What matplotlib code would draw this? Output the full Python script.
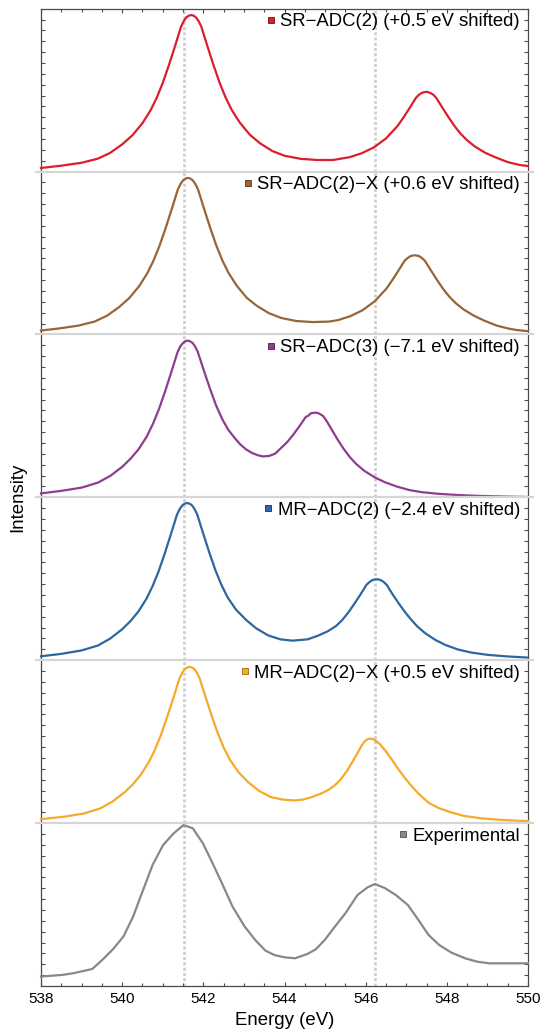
import matplotlib
matplotlib.use("Agg")
import matplotlib.pyplot as plt
from matplotlib.lines import Line2D
from matplotlib.colors import to_rgb
import numpy as np

plt.rcParams['font.family'] = ['Liberation Sans', 'DejaVu Sans']

# one panel per method, top to bottom
labels = ["SR\u2212ADC(2) (+0.5 eV shifted)",
          "SR\u2212ADC(2)\u2212X (+0.6 eV shifted)",
          "SR\u2212ADC(3) (\u22127.1 eV shifted)",
          "MR\u2212ADC(2) (\u22122.4 eV shifted)",
          "MR\u2212ADC(2)\u2212X (+0.5 eV shifted)",
          "Experimental"]
colors = ["#DA1E2E", "#976537", "#8E3D8E", "#2E66A0", "#F6AA2C", "#888888"]

# energies (eV) and normalised intensity
e_sr2 = [538.0, 538.5, 539.0, 539.4, 539.7, 540.0, 540.25, 540.5, 540.7, 540.85,
         541.0, 541.15, 541.3, 541.45, 541.52, 541.58, 541.64, 541.7, 541.76, 541.82,
         541.88, 541.95, 542.1, 542.25, 542.4, 542.55, 542.7, 542.9, 543.15, 543.4,
         543.7, 544.0, 544.4, 544.8, 545.2, 545.6, 545.9, 546.2, 546.5, 546.79,
         546.94, 547.09, 547.24, 547.31, 547.37, 547.43, 547.49, 547.55, 547.61, 547.67,
         547.74, 547.89, 548.04, 548.19, 548.34, 548.49, 548.69, 548.94, 549.19, 549.5,
         549.8, 550.0]
i_sr2 = [0.022, 0.036, 0.054, 0.079, 0.114, 0.167, 0.222, 0.297, 0.376, 0.452,
         0.544, 0.652, 0.768, 0.889, 0.925, 0.946, 0.957, 0.961, 0.957, 0.946,
         0.925, 0.890, 0.770, 0.654, 0.546, 0.454, 0.378, 0.300, 0.225, 0.173,
         0.126, 0.097, 0.078, 0.071, 0.071, 0.088, 0.112, 0.148, 0.203, 0.281,
         0.335, 0.393, 0.453, 0.471, 0.481, 0.487, 0.489, 0.487, 0.480, 0.471,
         0.452, 0.392, 0.334, 0.279, 0.232, 0.194, 0.154, 0.116, 0.088, 0.058,
         0.040, 0.034]

e_sr2x = [538.0, 538.42, 538.92, 539.32, 539.62, 539.92, 540.17, 540.42, 540.62, 540.77,
          540.92, 541.07, 541.22, 541.37, 541.44, 541.5, 541.56, 541.62, 541.68, 541.74,
          541.8, 541.87, 542.02, 542.17, 542.32, 542.47, 542.62, 542.82, 543.07, 543.32,
          543.62, 543.92, 544.3, 544.7, 545.1, 545.32, 545.62, 545.92, 546.22, 546.51,
          546.66, 546.81, 546.96, 547.03, 547.09, 547.15, 547.21, 547.27, 547.33, 547.39,
          547.46, 547.61, 547.76, 547.91, 548.06, 548.21, 548.41, 548.66, 548.91, 549.22,
          549.52, 549.72, 550.0]
i_sr2x = [0.024, 0.036, 0.054, 0.079, 0.114, 0.167, 0.222, 0.297, 0.376, 0.452,
          0.544, 0.652, 0.768, 0.889, 0.925, 0.946, 0.957, 0.961, 0.957, 0.946,
          0.925, 0.890, 0.770, 0.654, 0.546, 0.454, 0.378, 0.300, 0.225, 0.175,
          0.130, 0.101, 0.082, 0.076, 0.079, 0.088, 0.112, 0.148, 0.203, 0.281,
          0.335, 0.393, 0.453, 0.468, 0.479, 0.484, 0.486, 0.484, 0.479, 0.468,
          0.452, 0.392, 0.334, 0.279, 0.232, 0.194, 0.154, 0.116, 0.086, 0.055,
          0.036, 0.027, 0.020]

e_sr3 = [538.0, 538.51, 539.01, 539.41, 539.71, 540.01, 540.21, 540.41, 540.61, 540.76,
         540.91, 541.06, 541.21, 541.36, 541.43, 541.49, 541.55, 541.61, 541.67, 541.73,
         541.79, 541.86, 542.01, 542.16, 542.31, 542.46, 542.61, 542.76, 542.91, 543.06,
         543.21, 543.36, 543.47, 543.62, 543.77, 543.92, 544.07, 544.22, 544.37, 544.52,
         544.59, 544.65, 544.71, 544.77, 544.83, 544.89, 544.95, 545.02, 545.17, 545.32,
         545.47, 545.62, 545.77, 545.97, 546.22, 546.47, 546.77, 547.07, 547.37, 547.77,
         548.27, 548.77, 549.37, 550.0]
i_sr3 = [0.024, 0.040, 0.060, 0.091, 0.132, 0.189, 0.238, 0.297, 0.375, 0.452,
         0.544, 0.652, 0.768, 0.888, 0.926, 0.945, 0.958, 0.962, 0.958, 0.949,
         0.929, 0.895, 0.780, 0.670, 0.567, 0.483, 0.416, 0.368, 0.325, 0.293,
         0.271, 0.257, 0.251, 0.254, 0.268, 0.304, 0.340, 0.386, 0.437, 0.492,
         0.502, 0.516, 0.518, 0.520, 0.517, 0.509, 0.499, 0.476, 0.413, 0.350,
         0.293, 0.244, 0.204, 0.162, 0.123, 0.093, 0.066, 0.045, 0.032, 0.022,
         0.014, 0.009, 0.005, 0.002]

e_mr2 = [538.0, 538.5, 539.0, 539.4, 539.7, 540.0, 540.2, 540.4, 540.6, 540.75,
         540.9, 541.05, 541.2, 541.35, 541.42, 541.48, 541.54, 541.6, 541.66, 541.72,
         541.78, 541.85, 542.0, 542.15, 542.3, 542.45, 542.6, 542.8, 543.05, 543.3,
         543.6, 543.9, 544.2, 544.57, 544.82, 545.07, 545.27, 545.42, 545.57, 545.72,
         545.87, 546.02, 546.09, 546.15, 546.21, 546.27, 546.33, 546.39, 546.45, 546.52,
         546.67, 546.82, 546.97, 547.12, 547.27, 547.47, 547.72, 547.97, 548.27, 548.6,
         549.0, 549.5, 550.0]
i_mr2 = [0.024, 0.039, 0.060, 0.090, 0.132, 0.190, 0.239, 0.299, 0.378, 0.455,
         0.547, 0.656, 0.773, 0.893, 0.929, 0.950, 0.961, 0.965, 0.961, 0.951,
         0.930, 0.894, 0.775, 0.659, 0.551, 0.460, 0.385, 0.312, 0.248, 0.196,
         0.152, 0.128, 0.120, 0.128, 0.150, 0.178, 0.210, 0.246, 0.292, 0.346,
         0.403, 0.463, 0.479, 0.490, 0.495, 0.497, 0.495, 0.489, 0.479, 0.462,
         0.402, 0.347, 0.295, 0.249, 0.208, 0.165, 0.124, 0.093, 0.066, 0.047,
         0.033, 0.023, 0.016]

e_mr2x = [538.0, 538.56, 539.06, 539.46, 539.76, 540.06, 540.26, 540.46, 540.66, 540.81,
          540.96, 541.11, 541.26, 541.41, 541.48, 541.54, 541.6, 541.66, 541.72, 541.78,
          541.84, 541.91, 542.06, 542.21, 542.36, 542.51, 542.66, 542.86, 543.11, 543.36,
          543.66, 543.96, 544.26, 544.45, 544.64, 544.89, 545.09, 545.24, 545.39, 545.54,
          545.69, 545.84, 545.9, 545.97, 546.04, 546.1, 546.16, 546.22, 546.28, 546.35,
          546.5, 546.65, 546.8, 546.95, 547.1, 547.3, 547.55, 547.8, 548.1, 548.42,
          548.82, 549.3, 549.8, 550.0]
i_mr2x = [0.024, 0.039, 0.059, 0.090, 0.132, 0.189, 0.237, 0.297, 0.376, 0.452,
          0.544, 0.652, 0.767, 0.887, 0.923, 0.944, 0.955, 0.959, 0.955, 0.945,
          0.924, 0.888, 0.770, 0.656, 0.549, 0.459, 0.387, 0.314, 0.250, 0.200,
          0.160, 0.144, 0.139, 0.144, 0.157, 0.180, 0.205, 0.232, 0.270, 0.320,
          0.383, 0.448, 0.476, 0.500, 0.514, 0.519, 0.517, 0.511, 0.500, 0.485,
          0.440, 0.388, 0.333, 0.282, 0.236, 0.181, 0.125, 0.092, 0.066, 0.044,
          0.030, 0.020, 0.014, 0.012]

e_exp = [538.0, 538.53, 538.79, 539.26, 539.51, 539.77, 540.03, 540.27, 540.5, 540.75,
         541.01, 541.27, 541.51, 541.74, 541.99, 542.21, 542.46, 542.72, 543.02, 543.28,
         543.53, 543.75, 544.0, 544.26, 544.56, 544.77, 544.99, 545.24, 545.5, 545.8,
         546.05, 546.23, 546.48, 546.74, 547.04, 547.3, 547.55, 547.81, 548.11, 548.45,
         548.75, 549.05, 549.39, 550.0]
i_exp = [0.058, 0.068, 0.078, 0.104, 0.160, 0.225, 0.303, 0.426, 0.579, 0.743,
         0.866, 0.937, 0.988, 0.968, 0.876, 0.763, 0.630, 0.487, 0.364, 0.282,
         0.217, 0.190, 0.176, 0.170, 0.196, 0.225, 0.282, 0.364, 0.446, 0.559,
         0.606, 0.626, 0.600, 0.559, 0.497, 0.405, 0.313, 0.252, 0.205, 0.170,
         0.149, 0.139, 0.139, 0.139]

energies = [e_sr2, e_sr2x, e_sr3, e_mr2, e_mr2x, e_exp]
intensities = [i_sr2, i_sr2x, i_sr3, i_mr2, i_mr2x, i_exp]

# experimental peak positions (dotted guides)
exp_peaks = [541.53, 546.22]

fig = plt.figure(figsize=(5.43, 10.32), dpi=100)
axes = fig.subplots(6, 1, sharex=True)
fig.subplots_adjust(left=0.0755, right=0.9724, bottom=0.0446, top=0.9916, hspace=0)

frame_col = "#4A4A4A"
for k, ax in enumerate(axes):
    for p in exp_peaks:
        ax.axvline(p, color="#D0D0D0", lw=2.0, ls=(0, (1.1, 0.8)), zorder=1)
    ax.plot(energies[k], intensities[k], color=colors[k], lw=1.6, zorder=3,
            clip_on=False, solid_joinstyle='round')
    ax.set_xlim(538, 550)
    ax.set_ylim(0, 1)
    ax.set_yticks(np.arange(1, 15) / 15)
    ax.set_yticklabels([])
    ax.tick_params(axis='y', direction='in', left=True, right=True,
                   length=2.7, width=0.8, color=frame_col)
    for s in ["left", "right", "top", "bottom"]:
        ax.spines[s].set_color(frame_col)
        ax.spines[s].set_linewidth(0.9)
    ax.spines["top"].set_visible(k == 0)
    ax.spines["bottom"].set_visible(k == 5)
    ax.tick_params(axis='x', which='both', top=(k == 0), bottom=(k == 5),
                   labelbottom=(k == 5), direction='in', color=frame_col, width=0.8)
    dark = tuple(np.array(to_rgb(colors[k])) * 0.7)
    h = Line2D([], [], ls='none', marker='s', ms=4.6, mfc=colors[k], mec=dark, mew=0.7)
    ax.legend([h], [labels[k]], loc='upper right', bbox_to_anchor=(1, 1.022),
              frameon=False, fontsize=13.3, handlelength=0.6, handletextpad=0.2,
              borderaxespad=0.24, borderpad=0.2)

axes[5].set_xticks(np.arange(538, 551, 2))
axes[5].set_xticks(np.arange(538, 550.01, 0.5), minor=True)
axes[5].tick_params(axis='x', which='major', length=3.2, labelsize=11, pad=4)
axes[5].tick_params(axis='x', which='minor', length=2.0)
axes[0].tick_params(axis='x', which='major', length=3.2)
axes[0].tick_params(axis='x', which='minor', length=2.0)

# light grey panel separators, a little wider than the frame
x0 = axes[0].get_position().x0 - 5 / 543
x1 = axes[0].get_position().x1 + 5 / 543
for ax in axes[:5]:
    y = ax.get_position().y0
    fig.add_artist(Line2D([x0, x1], [y, y], color="#D5D5D5", lw=1.6, zorder=5))

fig.text(0.033, 0.518, "Intensity", rotation=90, ha='center', va='center', fontsize=13.4)
fig.text(0.524, 0.0116, "Energy (eV)", ha='center', va='center', fontsize=13.4)

fig.savefig("out.png", dpi=100)
